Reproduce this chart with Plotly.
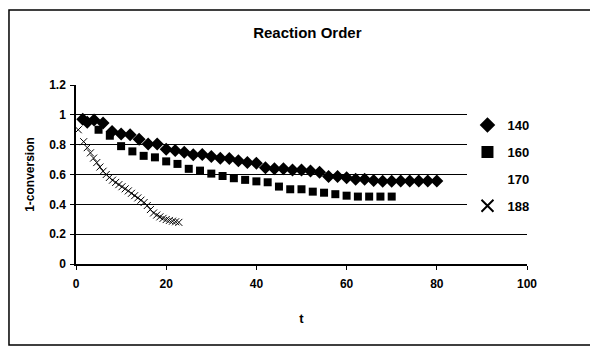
import plotly.graph_objects as go

# ---- data ----
t_140 = [1.5, 2.5, 4, 6, 8, 10, 12, 14, 16, 18, 20, 22, 24, 26, 28, 30, 32, 34, 36, 38,
         40, 42, 44, 46, 48, 50, 52, 54, 56, 58, 60, 62, 64, 66, 68, 70, 72, 74, 76, 78, 80]
v_140 = [0.97, 0.95, 0.965, 0.945, 0.888, 0.872, 0.866, 0.837, 0.805, 0.805, 0.77, 0.761,
         0.75, 0.732, 0.734, 0.72, 0.709, 0.707, 0.692, 0.68, 0.676, 0.646, 0.638, 0.638,
         0.631, 0.631, 0.624, 0.615, 0.586, 0.586, 0.579, 0.568, 0.568, 0.559, 0.554,
         0.554, 0.557, 0.557, 0.557, 0.557, 0.557]

t_160 = [5, 7.5, 10, 12.5, 15, 17.5, 20, 22.5, 25, 27.5, 30, 32.5, 35, 37.5, 40, 42.5,
         45, 47.5, 50, 52.5, 55, 57.5, 60, 62.5, 65, 67.5, 70]
v_160 = [0.90, 0.86, 0.79, 0.755, 0.725, 0.715, 0.688, 0.671, 0.638, 0.626, 0.606, 0.59,
         0.575, 0.564, 0.554, 0.548, 0.519, 0.501, 0.501, 0.485, 0.478, 0.468, 0.458,
         0.452, 0.452, 0.452, 0.452]

# series "170" has a legend entry but no visible points
t_170 = [None]
v_170 = [None]

t_188 = [0.5, 1.7, 2.5, 3.2, 3.9, 4.6, 5.3, 6.0, 6.7, 7.4, 8.1, 8.8, 9.5, 10.2, 10.9,
         11.6, 12.3, 13.0, 13.7, 14.4, 15.1, 15.8, 16.5, 17.2, 17.9, 18.6, 19.3, 20.0,
         20.7, 21.4, 22.1, 22.8]
v_188 = [0.90, 0.82, 0.78, 0.745, 0.71, 0.68, 0.65, 0.622, 0.60, 0.58, 0.562, 0.547,
         0.532, 0.518, 0.504, 0.49, 0.474, 0.458, 0.443, 0.428, 0.412, 0.392, 0.365,
         0.342, 0.328, 0.316, 0.306, 0.298, 0.292, 0.287, 0.283, 0.279]

series_names = ["140", "160", "170", "188"]
x_ticks = [0, 20, 40, 60, 80, 100]
y_ticks = [0, 0.2, 0.4, 0.6, 0.8, 1, 1.2]

FONT = "Arial, Liberation Sans, sans-serif"

fig = go.Figure()
fig.add_trace(go.Scatter(x=t_140, y=v_140, mode="markers", name=series_names[0],
                         legendgroup="a",
                         marker=dict(symbol="diamond", size=10, color="black")))
fig.add_trace(go.Scatter(x=t_160, y=v_160, mode="markers", name=series_names[1],
                         legendgroup="b",
                         marker=dict(symbol="square", size=8, color="black")))
fig.add_trace(go.Scatter(x=t_170, y=v_170, mode="markers", name=series_names[2],
                         legendgroup="c",
                         marker=dict(symbol="circle", size=8, color="rgba(0,0,0,0)")))
fig.add_trace(go.Scatter(x=t_188, y=v_188, mode="markers", name=series_names[3],
                         legendgroup="d",
                         marker=dict(symbol="x-thin-open", size=7, color="black",
                                     line=dict(width=1, color="black"))))

fig.update_layout(
    width=590, height=339,
    margin=dict(l=68, r=71, t=77, b=83),
    paper_bgcolor="white", plot_bgcolor="white",
    font=dict(family=FONT, color="black", size=12),
    title=dict(text="<b>Reaction Order</b>", x=0.513, xref="paper", xanchor="center",
               y=0.926, yanchor="middle", font=dict(size=15, family=FONT)),
    showlegend=True,
    legend=dict(x=0.868, xanchor="left", y=0.86, yanchor="top",
                bgcolor="white", borderwidth=0,
                font=dict(size=13, family=FONT, weight="bold"),
                tracegroupgap=7, itemsizing="constant"),
    xaxis=dict(range=[0, 100], tickvals=x_ticks, showgrid=False, zeroline=False,
               showline=True, linecolor="black", linewidth=1.5,
               ticks="outside", ticklen=4, tickcolor="black", ticklabelstandoff=4,
               tickfont=dict(size=12, family=FONT, weight="bold"),
               title=dict(text="<b>t</b>", font=dict(size=13, family=FONT), standoff=24)),
    yaxis=dict(range=[0, 1.2], tickvals=y_ticks, showgrid=True, gridcolor="black",
               gridwidth=1, zeroline=False,
               showline=True, linecolor="black", linewidth=1.5,
               ticks="outside", ticklen=4, tickcolor="black", ticklabelstandoff=2,
               tickfont=dict(size=12, family=FONT, weight="bold"),
               title=dict(text="<b>1-conversion</b>", font=dict(size=12, family=FONT),
                          standoff=12)),
)

# outer chart frame
fig.add_shape(type="rect", xref="paper", yref="paper",
              x0=-0.1486, x1=1.155, y0=-0.4525, y1=1.419,
              line=dict(color="black", width=1.5), fillcolor="rgba(0,0,0,0)")

fig.write_html("out.html")
